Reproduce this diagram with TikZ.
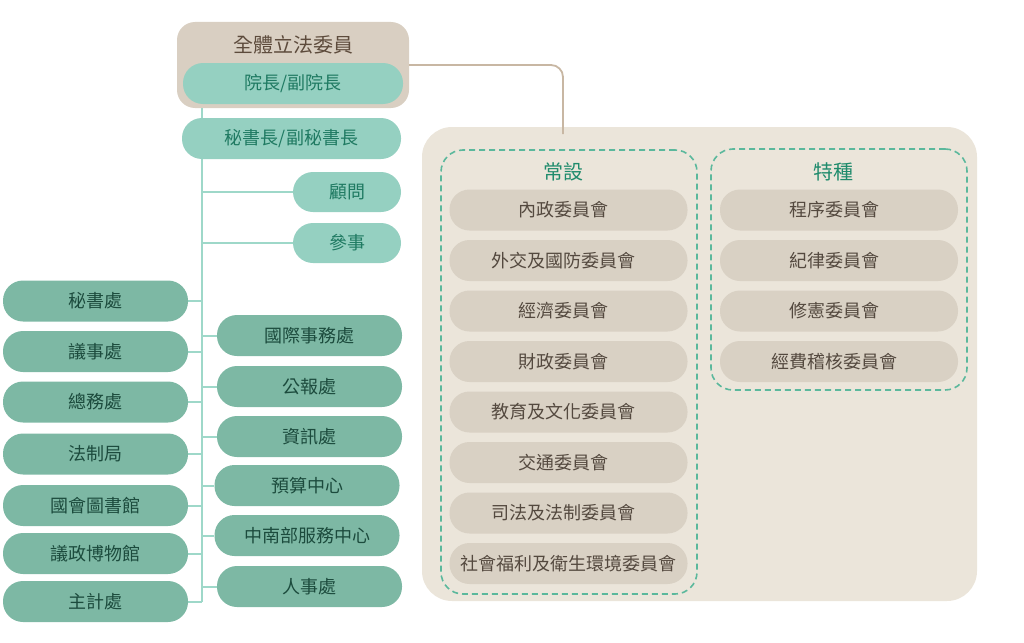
\documentclass[tikz,border=0pt]{standalone}
\usepackage{fontspec}
\setmainfont{Noto Sans CJK TC}
\definecolor{topfill}{HTML}{D9CFC2}
\definecolor{toptext}{HTML}{5D4B3C}
\definecolor{lteal}{HTML}{95D0C1}
\definecolor{ltealtext}{HTML}{1F7A62}
\definecolor{dteal}{HTML}{7DB8A4}
\definecolor{dtealtext}{HTML}{1C4B3D}
\definecolor{trunkcol}{HTML}{9ED8C9}
\definecolor{browncol}{HTML}{C8B7A3}
\definecolor{regionfill}{HTML}{EBE5DA}
\definecolor{cfill}{HTML}{D9D1C4}
\definecolor{ctext}{HTML}{54493F}
\definecolor{dashcol}{HTML}{5BB89C}
\definecolor{titleteal}{HTML}{1F8B6C}
\usetikzlibrary{positioning}
\pgfdeclarelayer{bg}
\pgfdeclarelayer{lines}
\pgfsetlayers{bg,lines,main}
\begin{document}
\begin{tikzpicture}[x=1pt,y=-1pt,
  pillbase/.style={rectangle, rounded corners=20pt, minimum height=41pt, inner sep=0pt, font=\fontsize{18}{20}\selectfont},
  lightpill/.style={pillbase, fill=lteal, text=ltealtext},
  darkpill/.style={pillbase, fill=dteal, text=dtealtext, minimum width=185pt},
  cpill/.style={pillbase, fill=cfill, text=ctext, minimum width=238pt, execute at begin node={\hspace*{-10pt}}},
  cpillwide/.style={pillbase, fill=cfill, text=ctext, minimum width=238pt},
  topbox/.style={rectangle, rounded corners=18pt, fill=topfill, minimum width=232pt, minimum height=86pt, inner sep=0pt},
  toptitle/.style={text=toptext, inner sep=0pt, font=\fontsize{20}{22}\selectfont},
  ctitle/.style={text=titleteal, inner sep=0pt, font=\fontsize{20}{22}\selectfont},
  region/.style={rectangle, rounded corners=30pt, fill=regionfill, minimum width=555pt, minimum height=474pt, inner sep=0pt},
  dashbox/.style={rectangle, rounded corners=22pt, draw=dashcol, line width=1.6pt, dash pattern=on 6pt off 4pt, minimum width=256pt, inner sep=0pt},
  trunk/.style={draw=trunkcol, line width=2pt},
  brownline/.style={draw=browncol, line width=1.8pt, rounded corners=12pt}
]
\useasboundingbox (0,0) rectangle (1024,642);

% backgrounds
\begin{pgfonlayer}{bg}
\node[topbox] (all) at (293,65) {};
\node[region] (comm) at (699.5,364) {};
\end{pgfonlayer}

% top
\node[toptitle] (alltitle) at (293,45) {全體立法委員};
\node[lightpill, minimum width=220pt] (pres) at (293,83.5) {院長/副院長};
\node[lightpill, minimum width=219pt] (sec) at (291.5,138.5) {秘書長/副秘書長};
\node[lightpill, minimum width=108pt, minimum height=40pt] (adv) at (347,192) {顧問};
\node[lightpill, minimum width=108pt, minimum height=40pt] (coun) at (347,243) {參事};

% left column
\node[darkpill] (L1) at (95.5,301) {秘書處};
\node[darkpill] (L2) at (95.5,351.5) {議事處};
\node[darkpill] (L3) at (95.5,402) {總務處};
\node[darkpill] (L4) at (95.5,454) {法制局};
\node[darkpill] (L5) at (95.5,505.5) {國會圖書館};
\node[darkpill] (L6) at (95.5,553.5) {議政博物館};
\node[darkpill] (L7) at (95.5,601.5) {主計處};

% right column
\node[darkpill] (R1) at (309.5,335.5) {國際事務處};
\node[darkpill] (R2) at (309.5,386.5) {公報處};
\node[darkpill] (R3) at (309.5,436.5) {資訊處};
\node[darkpill] (R4) at (307,485.5) {預算中心};
\node[darkpill] (R5) at (307,535.5) {中南部服務中心};
\node[darkpill] (R6) at (309.5,586.5) {人事處};

% committees
\node[dashbox, minimum height=444pt] (cst) at (569,372) {};
\node[dashbox, minimum height=241pt] (spec) at (839,269.5) {};
\node[ctitle] (csttitle) at (563,172) {常設};
\node[ctitle] (spectitle) at (833,172) {特種};

\node[cpill] (C1) at (568.5,210) {內政委員會};
\node[cpill] (C2) at (568.5,260.5) {外交及國防委員會};
\node[cpill] (C3) at (568.5,311) {經濟委員會};
\node[cpill] (C4) at (568.5,361.5) {財政委員會};
\node[cpill] (C5) at (568.5,412) {教育及文化委員會};
\node[cpill] (C6) at (568.5,462.5) {交通委員會};
\node[cpill] (C7) at (568.5,513) {司法及法制委員會};
\node[cpillwide] (C8) at (568.5,563.5) {社會福利及衛生環境委員會};

\node[cpill] (S1) at (839,210) {程序委員會};
\node[cpill] (S2) at (839,260.5) {紀律委員會};
\node[cpill] (S3) at (839,311) {修憲委員會};
\node[cpill] (S4) at (839,361.5) {經費稽核委員會};

% connectors
\coordinate (trunktop) at (202,108);
\coordinate (cend) at (563,134);
\begin{pgfonlayer}{lines}
\draw[trunk] (trunktop) -- (L7.east -| trunktop);
\foreach \n in {L1,L2,L3,L4,L5,L6,L7} {\draw[trunk] (\n.east) -- (\n.east -| trunktop);}
\foreach \n in {R1,R2,R3,R4,R5,R6,adv,coun} {\draw[trunk] (\n.west) -- (\n.west -| trunktop);}
\draw[brownline] (all.east) -| (cend);
\end{pgfonlayer}
\end{tikzpicture}
\end{document}
